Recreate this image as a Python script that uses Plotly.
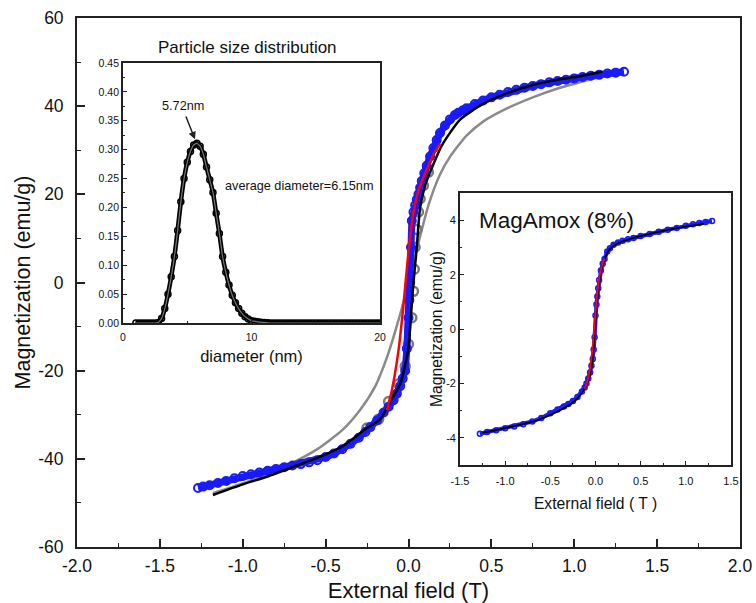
import plotly.graph_objects as go

# ---------------- main panel: magnetization loop ----------------
blue_H = [-1.27, -1.24, -1.2, -1.15, -1.1, -1.05, -1.0, -0.95, -0.9, -0.85, -0.8, -0.75, -0.7, -0.65,
          -0.6, -0.55, -0.5, -0.45, -0.4, -0.35, -0.3, -0.26, -0.23, -0.19, -0.15, -0.12, -0.09, -0.07,
          -0.05, -0.035, -0.02, -0.01, 0.0, 0.005, 0.01, 0.015, 0.02, 0.03, 0.04, 0.05, 0.06, 0.07,
          0.08, 0.095, 0.11, 0.13, 0.15, 0.17, 0.19, 0.22, 0.25, 0.28, 0.3, 0.33, 0.35, 0.4, 0.45,
          0.5, 0.55, 0.6, 0.65, 0.7, 0.75, 0.8, 0.85, 0.9, 0.95, 1.0, 1.05, 1.1, 1.15, 1.2, 1.25, 1.3]
blue_M = [-46.6, -46.3, -46.0, -45.5, -45.0, -44.4, -43.9, -43.5, -43.1, -42.7, -42.3, -41.9, -41.5, -41.2,
          -40.8, -40.3, -39.6, -38.8, -37.8, -36.6, -35.2, -33.9, -32.8, -31.3, -29.5, -28.2, -26.7, -25.2,
          -23.5, -21.8, -20.0, -15.0, -8.0, -4.0, 0.0, 8.0, 14.0, 16.0, 17.5, 18.8, 20.0, 21.5,
          23.0, 24.8, 26.5, 28.6, 30.5, 32.3, 33.9, 35.6, 37.0, 38.0, 38.5, 39.1, 39.5, 40.5, 41.3,
          42.0, 42.6, 43.2, 43.7, 44.2, 44.6, 45.0, 45.4, 45.7, 46.0, 46.3, 46.6, 46.9, 47.1, 47.4, 47.6, 47.8]

black_H = [-1.18, -1.0, -0.85, -0.7, -0.55, -0.4, -0.25, -0.17, -0.11, -0.05, 0.0, 0.01, 0.03,
           0.05, 0.07, 0.1, 0.13, 0.2, 0.31, 0.45, 0.6, 0.75, 0.9, 1.05, 1.17]
black_M = [-48.2, -45.8, -44.0, -41.9, -39.8, -37.2, -33.0, -31.0, -27.0, -23.0, -15.0, -10.0, 0.0,
           8.0, 17.0, 22.0, 25.0, 31.0, 36.9, 40.5, 43.0, 44.8, 46.0, 46.9, 47.8]

gray_H = [-1.18, -1.0, -0.85, -0.7, -0.55, -0.4, -0.29, -0.2, -0.13, -0.06, 0.0, 0.06, 0.12,
          0.19, 0.25, 0.35, 0.45, 0.6, 0.75, 0.9, 1.05, 1.17]
gray_M = [-47.8, -45.6, -43.4, -40.9, -37.8, -33.5, -28.8, -23.5, -17.0, -8.5, 0.0, 9.0, 17.5,
          24.5, 28.5, 33.3, 36.5, 39.6, 42.0, 44.0, 45.6, 46.8]

red_H = [-0.13, -0.1, -0.06, -0.03, 0.0, 0.03, 0.07, 0.11, 0.15, 0.19]
red_M = [-29.0, -24.4, -15.3, -5.0, 7.0, 16.0, 22.0, 25.5, 29.0, 31.5]

grayc_H = [-0.25, -0.18, -0.12, -0.06, -0.02, 0.0, 0.02, 0.03, 0.035, 0.04, 0.05, 0.06, 0.07, 0.09, 0.12]
grayc_M = [-33.0, -31.0, -27.0, -23.0, -19.0, -14.0, -8.0, -2.0, 3.0, 8.0, 12.0, 16.0, 19.0, 22.0, 25.0]

main_xticks = [-2.0, -1.5, -1.0, -0.5, 0.0, 0.5, 1.0, 1.5, 2.0]
main_xlabels = ["-2.0", "-1.5", "-1.0", "-0.5", "0.0", "0.5", "1.0", "1.5", "2.0"]
main_yticks = [-60, -40, -20, 0, 20, 40, 60]
main_ylabels = ["-60", "-40", "-20", "0", "20", "40", "60"]

# ---------------- inset 1: particle size distribution ----------------
dia_nm = [1.0, 1.25, 1.5, 1.75, 2.0, 2.25, 2.5, 2.75, 3.0, 3.25, 3.5, 3.75, 4.0, 4.25, 4.5, 4.75,
          5.0, 5.25, 5.5, 5.75, 6.0, 6.25, 6.5, 6.75, 7.0, 7.25, 7.5, 7.75, 8.0, 8.25, 8.5, 8.75,
          9.0, 9.25, 9.5, 9.75, 10.0, 10.25, 10.5, 10.75, 11.0, 11.25, 11.5, 11.75, 12.0, 12.25,
          12.5, 12.75, 13.0, 13.25, 13.5, 13.75, 14.0, 14.25, 14.5, 14.75, 15.0, 15.25, 15.5,
          15.75, 16.0, 16.25, 16.5, 16.75, 17.0, 17.25, 17.5, 17.75, 18.0, 18.25, 18.5, 18.75,
          19.0, 19.25, 19.5, 19.75, 20.0]
dist = [0, 0, 0, 0, 0, 0, 0, 0.001, 0.008, 0.025, 0.05, 0.08, 0.115, 0.16, 0.21, 0.25,
        0.278, 0.297, 0.308, 0.311, 0.306, 0.292, 0.27, 0.248, 0.226, 0.19, 0.155, 0.115, 0.088,
        0.066, 0.048, 0.035, 0.025, 0.017, 0.011, 0.007, 0.004, 0.003, 0.002, 0.0015, 0.001,
        0.0005, 0, 0, 0, 0, 0, 0, 0, 0, 0, 0, 0, 0, 0, 0, 0, 0, 0, 0, 0, 0, 0, 0, 0, 0, 0, 0,
        0, 0, 0, 0, 0, 0, 0, 0, 0]
in1_xticks = [0, 10, 20]
in1_xlabels = ["0", "10", "20"]
in1_yticks = [0.0, 0.05, 0.10, 0.15, 0.20, 0.25, 0.30, 0.35, 0.40, 0.45]
in1_ylabels = ["0.00", "0.05", "0.10", "0.15", "0.20", "0.25", "0.30", "0.35", "0.40", "0.45"]

# ---------------- inset 2: MagAmox (8%) ----------------
in_H = [-1.28, -1.2, -1.1, -1.0, -0.9, -0.8, -0.7, -0.6, -0.5, -0.42, -0.35, -0.3, -0.25, -0.2,
        -0.15, -0.12, -0.1, -0.08, -0.06, -0.045, -0.03, -0.02, -0.01, 0.0, 0.01, 0.02, 0.03,
        0.04, 0.06, 0.08, 0.1, 0.13, 0.16, 0.2, 0.25, 0.3, 0.36, 0.42, 0.5, 0.6, 0.7, 0.8, 0.9,
        1.0, 1.08, 1.15, 1.22, 1.29]
in_M = [-3.85, -3.79, -3.72, -3.65, -3.58, -3.5, -3.4, -3.27, -3.1, -2.96, -2.85, -2.76, -2.65, -2.5,
        -2.3, -2.15, -2.0, -1.82, -1.6, -1.35, -1.1, -0.75, -0.3, 0.5, 0.9, 1.2, 1.5,
        1.8, 2.15, 2.4, 2.58, 2.85, 2.97, 3.1, 3.18, 3.25, 3.3, 3.35, 3.42, 3.5, 3.58, 3.65, 3.72,
        3.8, 3.85, 3.9, 3.94, 3.97]
in_fitH = [-1.25, -1.0, -0.8, -0.6, -0.4, -0.25, -0.15, -0.08, -0.04, -0.02, 0.0, 0.02, 0.04,
           0.08, 0.15, 0.25, 0.4, 0.6, 0.8, 1.0, 1.2]
in_fitM = [-3.82, -3.64, -3.5, -3.3, -3.0, -2.7, -2.35, -1.9, -1.3, -0.6, 0.3, 1.1, 1.7,
           2.35, 2.9, 3.15, 3.33, 3.5, 3.65, 3.77, 3.87]
in_redH = [-0.12, -0.08, -0.05, -0.03, -0.01, 0.01, 0.03, 0.06, 0.1]
in_redM = [-2.2, -1.8, -1.2, -0.6, 0.2, 1.0, 1.6, 2.2, 2.6]
in2_xticks = [-1.5, -1.0, -0.5, 0.0, 0.5, 1.0, 1.5]
in2_xlabels = ["-1.5", "-1.0", "-0.5", "0.0", "0.5", "1.0", "1.5"]
in2_yticks = [-4, -2, 0, 2, 4]
in2_ylabels = ["-4", "-2", "0", "2", "4"]

FONT = "Liberation Sans, Arial, sans-serif"
BLUE = "#1a1aff"
GRAY = "#8a8a8a"

fig = go.Figure()

# main traces
fig.add_trace(go.Scatter(x=gray_H, y=gray_M, mode="lines",
                         line=dict(color=GRAY, width=2.5, shape="spline", smoothing=0.6),
                         xaxis="x", yaxis="y", showlegend=False))
fig.add_trace(go.Scatter(x=grayc_H, y=grayc_M, mode="markers",
                         marker=dict(symbol="circle-open", size=9, color="#7a7a7a", line=dict(width=2.5)),
                         xaxis="x", yaxis="y", showlegend=False))
fig.add_trace(go.Scatter(x=blue_H, y=blue_M, mode="lines+markers",
                         line=dict(color=BLUE, width=7),
                         marker=dict(symbol="circle-open", size=8, color=BLUE, line=dict(width=2)),
                         xaxis="x", yaxis="y", showlegend=False))
fig.add_trace(go.Scatter(x=black_H, y=black_M, mode="lines",
                         line=dict(color="black", width=2.5, shape="spline", smoothing=0.6),
                         xaxis="x", yaxis="y", showlegend=False))
fig.add_trace(go.Scatter(x=red_H, y=red_M, mode="lines",
                         line=dict(color="red", width=2.5, shape="spline", smoothing=0.6),
                         xaxis="x", yaxis="y", showlegend=False))

# inset 1
fig.add_trace(go.Scatter(x=dia_nm, y=dist, mode="lines+markers",
                         line=dict(color="black", width=4.5, shape="spline", smoothing=0.6),
                         marker=dict(symbol="circle-open", size=6, color="black", line=dict(width=1.5)),
                         xaxis="x2", yaxis="y2", showlegend=False))
fig.add_trace(go.Scatter(x=dia_nm, y=dist, mode="lines",
                         line=dict(color="#777777", width=1.2, shape="spline", smoothing=0.6),
                         xaxis="x2", yaxis="y2", showlegend=False))

# inset 2
fig.add_trace(go.Scatter(x=in_H, y=in_M, mode="lines+markers",
                         line=dict(color=BLUE, width=4),
                         marker=dict(symbol="circle-open", size=5, color=BLUE, line=dict(width=1.5)),
                         xaxis="x3", yaxis="y3", showlegend=False))
fig.add_trace(go.Scatter(x=in_fitH, y=in_fitM, mode="lines",
                         line=dict(color="black", width=1.8, shape="spline", smoothing=0.6),
                         xaxis="x3", yaxis="y3", showlegend=False))
fig.add_trace(go.Scatter(x=in_redH, y=in_redM, mode="lines",
                         line=dict(color="red", width=1.8, shape="spline", smoothing=0.6),
                         xaxis="x3", yaxis="y3", showlegend=False))

axcommon = dict(showline=True, mirror=True, linecolor="#222", ticks="inside", tickcolor="#222",
                showgrid=False, zeroline=False, automargin=False)

fig.update_layout(
    width=756, height=603,
    margin=dict(l=77, r=16, t=18, b=56),
    paper_bgcolor="white", plot_bgcolor="white",
    font=dict(family=FONT, color="#111"),
    xaxis=dict(domain=[0, 1], range=[-2, 2], tickmode="array", tickvals=main_xticks, ticktext=main_xlabels,
               ticklen=8, tickwidth=1.5, linewidth=1.8, tickfont=dict(size=17.5), ticklabelstandoff=2,
               minor=dict(dtick=0.25, tick0=0, ticks="inside", ticklen=4, tickwidth=1.2, tickcolor="#222"),
               title=dict(text="External field (T)", font=dict(size=22), standoff=11), **axcommon),
    yaxis=dict(domain=[0, 1], range=[-60, 60], tickmode="array", tickvals=main_yticks, ticktext=main_ylabels,
               ticklen=8, tickwidth=1.5, linewidth=1.8, tickfont=dict(size=17.5), ticklabelstandoff=8,
               minor=dict(dtick=10, tick0=0, ticks="inside", ticklen=4, tickwidth=1.2, tickcolor="#222"),
               title=dict(text="Magnetization (emu/g)", font=dict(size=21.5), standoff=2), **axcommon),
    xaxis2=dict(domain=[0.0694, 0.457], range=[0, 20], anchor="y2", tickmode="array", tickvals=in1_xticks,
                ticktext=in1_xlabels, ticklen=4, linewidth=1.8, tickfont=dict(size=10.5), ticklabelstandoff=3,
                minor=dict(dtick=5, tick0=0, ticks="inside", ticklen=2, tickcolor="#222"),
                title=dict(text="diameter (nm)", font=dict(size=16.5), standoff=9), **axcommon),
    yaxis2=dict(domain=[0.4234, 0.915], range=[0, 0.45], anchor="x2", tickmode="array", tickvals=in1_yticks,
                ticktext=in1_ylabels, ticklen=4, linewidth=1.8, tickfont=dict(size=10.5),
                minor=dict(dtick=0.025, tick0=0, ticks="inside", ticklen=2, tickcolor="#222"), **axcommon),
    xaxis3=dict(domain=[0.5777, 0.9864], range=[-1.5, 1.5], anchor="y3", tickmode="array", tickvals=in2_xticks,
                ticktext=in2_xlabels, ticklen=4, linewidth=1.8, tickfont=dict(size=11), ticklabelstandoff=5,
                minor=dict(dtick=0.25, tick0=0, ticks="inside", ticklen=2, tickcolor="#222"),
                title=dict(text="External field ( T )", font=dict(size=15.7), standoff=12), **axcommon),
    yaxis3=dict(domain=[0.155, 0.669], range=[-5, 5], anchor="x3", tickmode="array", tickvals=in2_yticks,
                ticktext=in2_ylabels, ticklen=4, linewidth=1.8, tickfont=dict(size=11),
                minor=dict(dtick=1, tick0=0, ticks="inside", ticklen=2, tickcolor="#222"),
                title=dict(text="Magnetization (emu/g)", font=dict(size=15.7), standoff=0), **axcommon),
)

fig.add_annotation(text="Particle size distribution", xref="x2 domain", yref="y2 domain", x=0.4825, y=1.058,
                   showarrow=False, font=dict(size=17, color="#111"), xanchor="center", yanchor="middle")
fig.add_annotation(text="5.72nm", xref="x2", yref="y2", x=4.7, y=0.375, showarrow=False,
                   font=dict(size=12.7, color="#111"))
fig.add_annotation(text="", xref="x2", yref="y2", x=5.6, y=0.318, axref="x2", ayref="y2", ax=4.85, ay=0.36,
                   showarrow=True, arrowhead=2, arrowsize=1, arrowwidth=1.5, arrowcolor="#222")
fig.add_annotation(text="average diameter=6.15nm", xref="x2", yref="y2", x=13.7, y=0.237, showarrow=False,
                   font=dict(size=12.7, color="#111"))
fig.add_annotation(text="MagAmox (8%)", xref="x3", yref="y3", x=-1.31, y=4.0, showarrow=False,
                   font=dict(size=22.5, color="#111"), xanchor="left", yanchor="middle")

fig.write_html("out.html")
